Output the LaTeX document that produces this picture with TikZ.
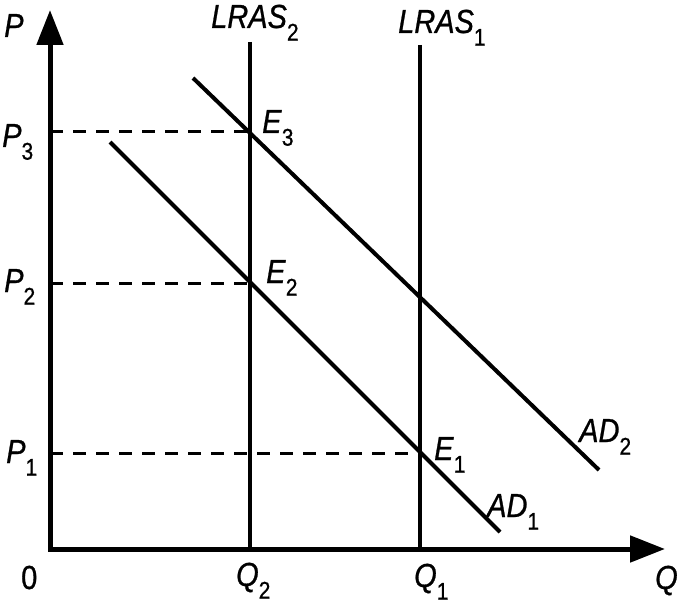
\documentclass[tikz,border=0pt]{standalone}
\usepackage{fontspec}
\setmainfont{Liberation Sans}[FakeBold=0.9, ItalicFeatures={FakeBold=0.9}]
\usetikzlibrary{arrows.meta}
\newcommand{\mainfs}{\fontsize{29}{32}\selectfont}
\newcommand{\subfs}{\fontsize{21}{22}\selectfont}
\newcommand{\lbl}[2]{\scalebox{1}[1.15]{\textit{#1}\raisebox{-11pt}{\subfs #2}}}
\newcommand{\stx}[1]{\scalebox{1}[1.15]{#1}}
\begin{document}
\begin{tikzpicture}[x=1pt,y=-1pt,
  axis/.style={line width=5pt, -{Triangle[length=35pt,width=26pt]}},
  curve/.style={line width=4pt},
  guide/.style={line width=3pt, dash pattern=on 13pt off 10pt},
  txt/.style={anchor=base west, inner sep=0pt, font=\mainfs}]
\useasboundingbox (0,0) rectangle (682,604);
\coordinate (O) at (50,549);
\coordinate (Ytip) at (50,10);
\coordinate (Xtip) at (665,549);
\coordinate (L2top) at (250,42);
\coordinate (L2bot) at (250,549);
\coordinate (L1top) at (420,45);
\coordinate (L1bot) at (420,549);
\coordinate (A1s) at (110,142);
\coordinate (A1e) at (500,532);
\coordinate (A2s) at (193,78);
\coordinate (A2e) at (599,470);
\coordinate (E3) at (250,132);
\coordinate (E2) at (250,283);
\coordinate (E1) at (420,453);
\coordinate (P3) at (50,132);
\coordinate (P2) at (50,283);
\coordinate (P1) at (50,453);
% guides
\draw[guide] (P3) -- (E3);
\draw[guide] (P2) -- (E2);
\draw[guide] (P1) -- (E1);
% curves
\draw[curve] (L2top) -- (L2bot);
\draw[curve] (L1top) -- (L1bot);
\draw[curve] (A1s) -- (A1e);
\draw[curve] (A2s) -- (A2e);
% axes
\draw[axis, line cap=rect] (O) -- (Ytip);
\draw[axis, line cap=rect] (O) -- (Xtip);
% labels
\node[txt] (lP) at (4,37) {\stx{\textit{P}}};
\node[txt] (lP3) at (2,147) {\lbl{P}{3}};
\node[txt] (lP2) at (4,292) {\lbl{P}{2}};
\node[txt] (lP1) at (6,463) {\lbl{P}{1}};
\node[txt] (l0) at (21,589) {\stx{0}};
\node[txt] (lQ2) at (236,586) {\lbl{Q}{2}};
\node[txt] (lQ1) at (414,587) {\lbl{Q}{1}};
\node[txt] (lQ) at (655,589) {\stx{\textit{Q}}};
\node[txt] (lL2) at (211,28) {\lbl{LRAS}{2}};
\node[txt] (lL1) at (398,33) {\lbl{LRAS}{1}};
\node[txt] (lE3) at (262,133) {\lbl{E}{3}};
\node[txt] (lE2) at (266,283) {\lbl{E}{2}};
\node[txt] (lE1) at (434,460) {\lbl{E}{1}};
\node[txt] (lA1) at (487,517) {\lbl{AD}{1}};
\node[txt] (lA2) at (579,442) {\lbl{AD}{2}};
\end{tikzpicture}
\end{document}
